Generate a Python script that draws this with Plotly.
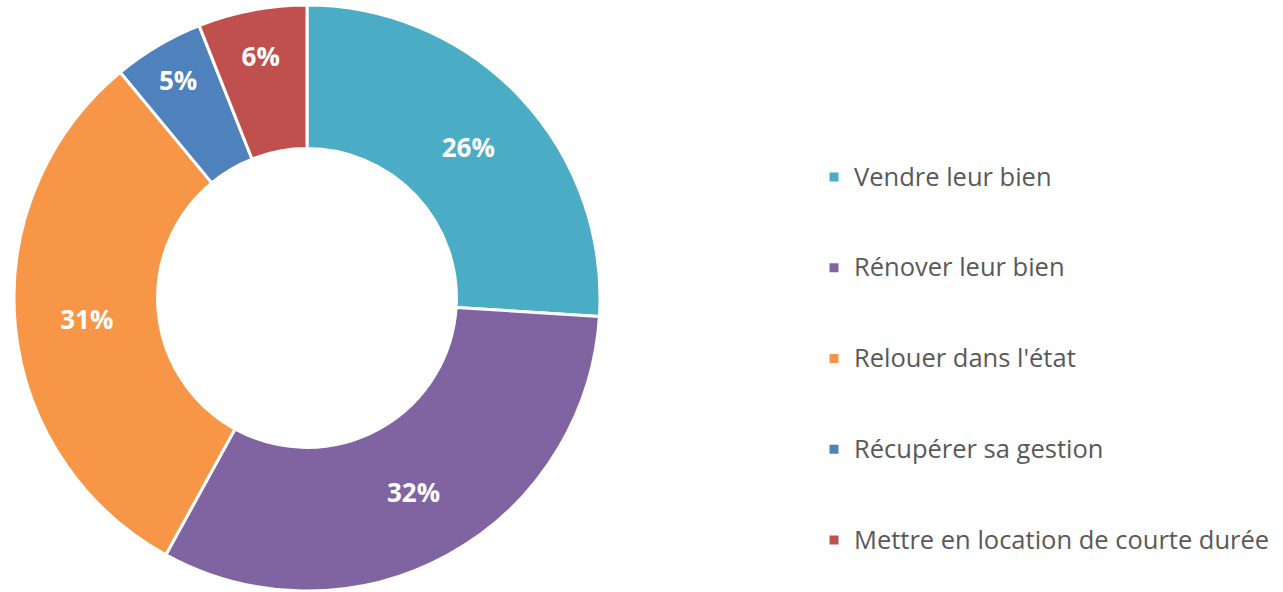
import plotly.graph_objects as go

labels = [
    "Vendre leur bien",
    "Rénover leur bien",
    "Relouer dans l'état",
    "Récupérer sa gestion",
    "Mettre en location de courte durée",
]
values = [26, 32, 31, 5, 6]
colors = ["#4BACC6", "#8064A2", "#F79646", "#4F81BD", "#C0504D"]

W, H = 1283, 592

# blank lines above/below each entry spread the legend out like the original
legend_labels = [
    " <br><span style='font-size:25.5px'>" + lab + "</span><br> " for lab in labels
]

fig = go.Figure(
    go.Pie(
        labels=legend_labels,
        values=values,
        hole=0.51,
        sort=False,
        direction="clockwise",
        rotation=0,
        marker=dict(colors=colors, line=dict(color="white", width=3)),
        texttemplate="<b>%{percent:.0%}</b>",
        textposition="inside",
        insidetextorientation="horizontal",
        textfont=dict(family="Open Sans", size=26, color="white"),
        hoverinfo="skip",
        domain=dict(x=[14 / W, 600 / W], y=[1 - 591 / H, 1 - 5 / H]),
    )
)

fig.update_layout(
    width=W,
    height=H,
    margin=dict(l=0, r=0, t=0, b=0),
    paper_bgcolor="white",
    plot_bgcolor="white",
    legend=dict(
        x=814 / W,
        xanchor="left",
        y=1 - 358.5 / H,
        yanchor="middle",
        font=dict(family="Open Sans", size=22.5, color="#595959"),
        itemwidth=30,
    ),
)

fig.write_html(
    "out.html",
    config={"displayModeBar": False},
    post_script="document.body.style.margin='0';",
)
